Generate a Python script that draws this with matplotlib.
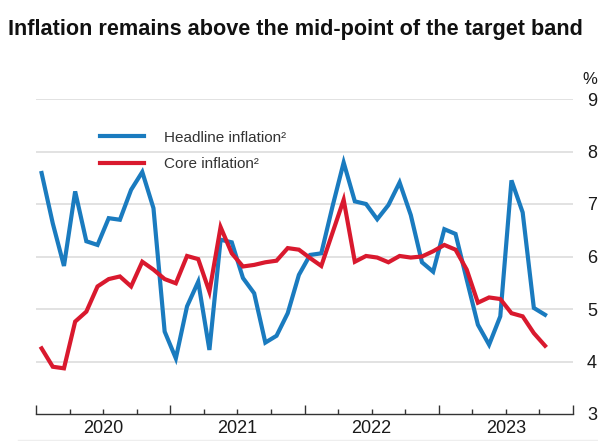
import numpy as np
import matplotlib.pyplot as plt
from matplotlib.lines import Line2D

plt.rcParams['font.family'] = ['Liberation Sans', 'DejaVu Sans']

# Monthly data, Jan 2020 - Oct 2023 (% y/y)
headline = [7.59, 6.63, 5.82, 7.24, 6.29, 6.22, 6.73, 6.70, 7.27, 7.61, 6.92, 4.57,
            4.06, 5.05, 5.52, 4.22, 6.32, 6.27, 5.59, 5.30, 4.36, 4.49, 4.92, 5.65,
            6.03, 6.06, 6.95, 7.79, 7.05, 7.00, 6.71, 6.98, 7.41, 6.79, 5.89, 5.71,
            6.52, 6.43, 5.56, 4.70, 4.32, 4.86, 7.45, 6.84, 5.02, 4.89]
core = [4.25, 3.90, 3.87, 4.76, 4.95, 5.43, 5.57, 5.62, 5.43, 5.90, 5.75, 5.57,
        5.49, 6.01, 5.95, 5.33, 6.56, 6.06, 5.81, 5.84, 5.89, 5.92, 6.16, 6.13,
        5.97, 5.82, 6.45, 7.08, 5.90, 6.01, 5.98, 5.89, 6.01, 5.98, 6.00, 6.10,
        6.22, 6.13, 5.75, 5.12, 5.22, 5.19, 4.92, 4.86, 4.54, 4.30]
years = ['2020', '2021', '2022', '2023']
yticks = [3, 4, 5, 6, 7, 8, 9]

blue = '#1a7bbf'
red = '#d9192e'

fig = plt.figure(figsize=(5.98, 4.41), dpi=100)
ax = fig.add_axes([36 / 598, 27 / 441, 537 / 598, 315 / 441])

# months plotted at the middle of each month slot
x = np.arange(len(headline)) + 0.5
ax.plot(x, headline, color=blue, lw=3, solid_joinstyle='miter', label='Headline inflation²')
ax.plot(x, core, color=red, lw=3, solid_joinstyle='miter', label='Core inflation²')

ax.set_xlim(0, 12 * len(years))
ax.set_ylim(3, 9)

# y axis on the right, no tick marks
ax.yaxis.tick_right()
ax.set_yticks(yticks)
ax.tick_params(axis='y', length=0, pad=10, labelsize=13, labelcolor='#1a1a1a')
for v in yticks[1:]:
    ax.axhline(v, color='#dddddd', lw=1.2, zorder=0)

# x axis: year ticks and quarter ticks pointing up
ax.set_xticks(np.arange(0, 12 * len(years) + 1, 12))
ax.set_xticks(np.arange(0, 12 * len(years) + 1, 3), minor=True)
ax.set_xticklabels([])
ax.tick_params(axis='x', which='major', direction='in', length=6.5, width=1, color='#333333')
ax.tick_params(axis='x', which='minor', direction='in', length=3.5, width=1, color='#333333')
for i, yr in enumerate(years):
    ax.text(12 * i + 6, -0.018, yr, transform=ax.get_xaxis_transform(),
            ha='center', va='top', fontsize=13, color='#1a1a1a')

for s in ['top', 'left', 'right']:
    ax.spines[s].set_visible(False)
ax.spines['bottom'].set_color('#333333')
ax.spines['bottom'].set_linewidth(1)

leg = ax.legend(loc='upper left', bbox_to_anchor=(0.119, 0.9), frameon=False,
                fontsize=11, handlelength=2.9, handletextpad=1.3, labelspacing=0.85,
                borderpad=0, borderaxespad=0)
for t in leg.get_texts():
    t.set_color('#333333')

fig.text(8 / 598, 1 - 30 / 441, 'Inflation remains above the mid-point of the target band',
         fontsize=15.6, fontweight='bold', ha='left', va='center', color='#111111')
fig.text(590 / 598, 1 - 79 / 441, '%', fontsize=12, ha='center', va='center', color='#1a1a1a')

fig.add_artist(Line2D([18 / 598, 1], [1.5 / 441, 1.5 / 441], transform=fig.transFigure,
                      color='#eeeeee', lw=1))

fig.savefig('out.png', dpi=100)
